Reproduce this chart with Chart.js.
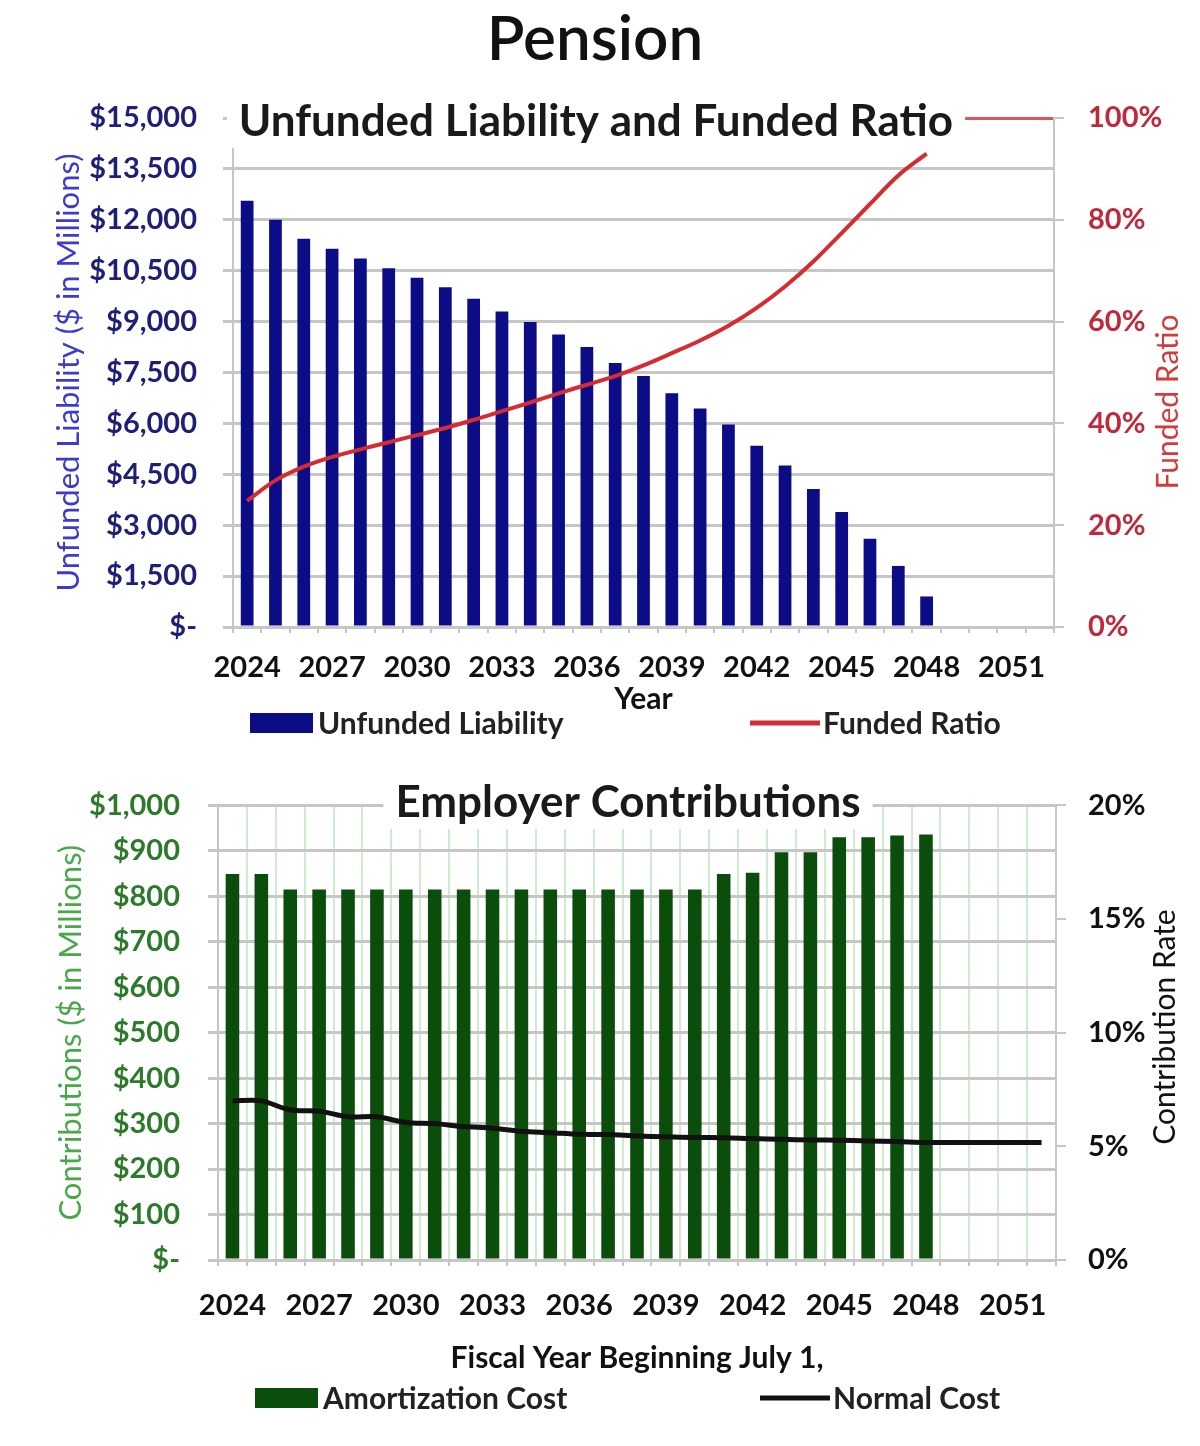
<!DOCTYPE html>
<html>
<head>
<meta charset="utf-8">
<script src="https://cdn.jsdelivr.net/npm/chart.js@4.4.1/dist/chart.umd.min.js"></script>
<style>
  html, body { margin: 0; padding: 0; background: #fff; }
  #wrap { position: relative; width: 1200px; height: 1446px; }
  canvas { position: absolute; left: 0; }
  #top { top: 0; }
  #bottom { top: 760px; }
</style>
</head>
<body>
<div id="wrap">
  <canvas id="top" width="1200" height="760"></canvas>
  <canvas id="bottom" width="1200" height="686"></canvas>
</div>
<script>
// data
const years = ['2024', '2025', '2026', '2027', '2028', '2029', '2030', '2031', '2032', '2033',
  '2034', '2035', '2036', '2037', '2038', '2039', '2040', '2041', '2042', '2043',
  '2044', '2045', '2046', '2047', '2048', '2049', '2050', '2051', '2052'];

// $ millions
const unfundedLiability = [12560, 12000, 11440, 11150, 10860, 10570, 10290, 10010, 9670, 9300,
  8990, 8620, 8250, 7780, 7400, 6890, 6440, 5970, 5340, 4760,
  4070, 3390, 2600, 1800, 900, null, null, null, null];

// percent
const fundedRatio = [24.8, 28.8, 31.5, 33.4, 34.9, 36.3, 37.7, 39.1, 40.7, 42.4,
  44.1, 45.9, 47.6, 49.3, 51.4, 53.8, 56.3, 59.2, 62.7, 66.9,
  71.8, 77.4, 83.1, 88.7, 93.0, null, null, null, null];

// $ millions
const amortizationCost = [849, 849, 815, 815, 815, 815, 815, 815, 815, 815,
  815, 815, 815, 815, 815, 815, 815, 849, 852, 897,
  897, 930, 930, 934, 936, null, null, null, null];

// percent of payroll
const normalCost = [7.0, 7.0, 6.6, 6.55, 6.3, 6.3, 6.05, 6.0, 5.87, 5.8,
  5.66, 5.6, 5.53, 5.52, 5.46, 5.42, 5.39, 5.38, 5.34, 5.31,
  5.28, 5.27, 5.24, 5.21, 5.17, 5.17, 5.17, 5.17, 5.17];

const FONT = 'Lato, "Open Sans", sans-serif';
const GRID = '#c6c6c6';

function dollars(v) {
  return v === 0 ? '$-' : '$' + v.toLocaleString('en-US');
}
function everyThird(v, i) {
  return i % 3 === 0 ? years[i] : '';
}

// draws chart title over the plot, the right-hand axis title and the legend
function overlay(o) {
  return {
    id: 'overlay',
    afterDraw(chart) {
      const c = chart.ctx;
      c.save();
      c.textAlign = 'center';
      c.textBaseline = 'middle';
      if (o.pageTitle) {
        c.font = '600 62px ' + FONT;
        c.fillStyle = '#111';
        c.fillText(o.pageTitle, 595, 40);
      }
      // title with white box behind it
      c.font = 'bold 44px ' + FONT;
      const w = c.measureText(o.title).width;
      c.fillStyle = '#fff';
      c.fillRect(o.titleX - w / 2 - 12, o.titleY - 26, w + 24, 52);
      c.fillStyle = '#1a1a1a';
      c.fillText(o.title, o.titleX, o.titleY);

      // right axis title, reading upwards
      c.save();
      c.translate(o.rTitleX, o.rTitleY);
      c.rotate(-Math.PI / 2);
      c.font = '30px ' + FONT;
      c.fillStyle = o.rTitleColor;
      c.fillText(o.rTitle, 0, 0);
      c.restore();

      // legend
      const ds = chart.data.datasets;
      c.font = 'bold 30px ' + FONT;
      c.textAlign = 'left';
      o.legend.forEach((it, k) => {
        const d = ds[k];
        if (d.type === 'line') {
          c.strokeStyle = d.borderColor;
          c.lineWidth = 5;
          c.beginPath();
          c.moveTo(it.x, o.legendY);
          c.lineTo(it.x + 70, o.legendY);
          c.stroke();
        } else {
          c.fillStyle = d.backgroundColor;
          c.fillRect(it.x, o.legendY - 10, 63, 20);
        }
        c.fillStyle = '#222';
        c.fillText(d.label, it.x + (d.type === 'line' ? 73 : 68), o.legendY + 1);
      });
      c.restore();
    }
  };
}

let chartTop, chartBottom;

function init() {
  chartTop = new Chart(document.getElementById('top').getContext('2d'), {
    data: {
      labels: years,
      datasets: [{
        type: 'line',
        label: 'Funded Ratio',
        data: fundedRatio,
        yAxisID: 'y1',
        borderColor: '#d62b30',
        borderWidth: 4,
        pointRadius: 0,
        tension: 0.35,
        order: 1
      }, {
        type: 'bar',
        label: 'Unfunded Liability',
        data: unfundedLiability,
        yAxisID: 'y',
        backgroundColor: '#0c0c86',
        barPercentage: 0.45,
        categoryPercentage: 1,
        order: 2
      }]
    },
    options: {
      responsive: false,
      animation: false,
      devicePixelRatio: 1,
      layout: { padding: { top: 118, bottom: 43, left: 0, right: 0 } },
      plugins: { legend: { display: false }, title: { display: false }, tooltip: { enabled: false } },
      scales: {
        x: {
          grid: { drawOnChartArea: false, color: GRID, tickLength: 6, lineWidth: 2 },
          border: { color: GRID, width: 2 },
          ticks: { autoSkip: false, maxRotation: 0, padding: 17, color: '#111', font: { family: FONT, size: 29, weight: 'bold' }, callback: everyThird },
          title: { display: true, text: 'Year', color: '#111', padding: 0, font: { family: FONT, size: 30, weight: 'bold' } },
          afterFit: s => { s.height = 90; }
        },
        y: {
          position: 'left',
          min: 0, max: 15000,
          ticks: { stepSize: 1500, padding: 26, color: '#1f1f7a', font: { family: FONT, size: 29, weight: 'bold' }, callback: dollars },
          grid: {
            color: ctx => ctx.tick && ctx.tick.value === 15000 ? '#d9545c' : GRID,
            tickColor: GRID, lineWidth: 3, tickLength: 10
          },
          border: { color: GRID, width: 2 },
          title: { display: true, text: 'Unfunded Liability ($ in Millions)', color: '#3b3bd0', padding: { top: 50 }, font: { family: FONT, size: 31 } },
          afterFit: s => { s.width = 233; }
        },
        y1: {
          position: 'right',
          min: 0, max: 100,
          ticks: { stepSize: 20, padding: 24, color: '#c0283c', font: { family: FONT, size: 29, weight: 'bold' }, callback: v => v + '%' },
          grid: { drawOnChartArea: false, color: GRID, lineWidth: 2, tickLength: 10 },
          border: { color: GRID, width: 2 },
          afterFit: s => { s.width = 146; }
        }
      }
    },
    plugins: [overlay({
      pageTitle: 'Pension',
      title: 'Unfunded Liability and Funded Ratio',
      titleX: 596, titleY: 122,
      rTitle: 'Funded Ratio', rTitleX: 1168, rTitleY: 402, rTitleColor: '#d43a3a',
      legendY: 723,
      legend: [{ x: 750 }, { x: 250 }]
    })]
  });

  chartBottom = new Chart(document.getElementById('bottom').getContext('2d'), {
    data: {
      labels: years,
      datasets: [{
        type: 'line',
        label: 'Normal Cost',
        data: normalCost,
        yAxisID: 'y1',
        borderColor: '#111111',
        borderWidth: 5,
        pointRadius: 0,
        tension: 0.3,
        order: 1
      }, {
        type: 'bar',
        label: 'Amortization Cost',
        data: amortizationCost,
        yAxisID: 'y',
        backgroundColor: '#0b4d0b',
        barPercentage: 0.47,
        categoryPercentage: 1,
        order: 2
      }]
    },
    options: {
      responsive: false,
      animation: false,
      devicePixelRatio: 1,
      layout: { padding: { top: 43, bottom: 70, left: 0, right: 0 } },
      plugins: { legend: { display: false }, title: { display: false }, tooltip: { enabled: false } },
      scales: {
        x: {
          grid: { drawOnChartArea: true, color: '#cdeccd', tickColor: GRID, tickLength: 6, lineWidth: 2 },
          border: { color: GRID, width: 2 },
          ticks: { autoSkip: false, maxRotation: 0, padding: 22, color: '#111', font: { family: FONT, size: 29, weight: 'bold' }, callback: everyThird },
          title: { display: true, text: 'Fiscal Year Beginning July 1,', color: '#111', padding: 0, font: { family: FONT, size: 30, weight: 'bold' } },
          afterFit: s => { s.height = 116; }
        },
        y: {
          position: 'left',
          min: 0, max: 1000,
          ticks: { stepSize: 100, padding: 28, color: '#2d7a2d', font: { family: FONT, size: 29, weight: 'bold' }, callback: dollars },
          grid: { color: GRID, lineWidth: 3, tickLength: 10 },
          border: { color: GRID, width: 2 },
          title: { display: true, text: 'Contributions ($ in Millions)', color: '#48a848', padding: { top: 52 }, font: { family: FONT, size: 31 } },
          afterFit: s => { s.width = 218; }
        },
        y1: {
          position: 'right',
          min: 0, max: 20,
          ticks: { stepSize: 5, padding: 22, color: '#111', font: { family: FONT, size: 29, weight: 'bold' }, callback: v => v + '%' },
          grid: { drawOnChartArea: false, color: GRID, lineWidth: 2, tickLength: 10 },
          border: { color: GRID, width: 2 },
          afterFit: s => { s.width = 144; }
        }
      }
    },
    plugins: [overlay({
      title: 'Employer Contributions',
      titleX: 628, titleY: 43,
      rTitle: 'Contribution Rate', rTitleX: 1165, rTitleY: 267, rTitleColor: '#111',
      legendY: 638,
      legend: [{ x: 760 }, { x: 255 }]
    })]
  });
}

document.addEventListener('DOMContentLoaded', init);
</script>
</body>
</html>
